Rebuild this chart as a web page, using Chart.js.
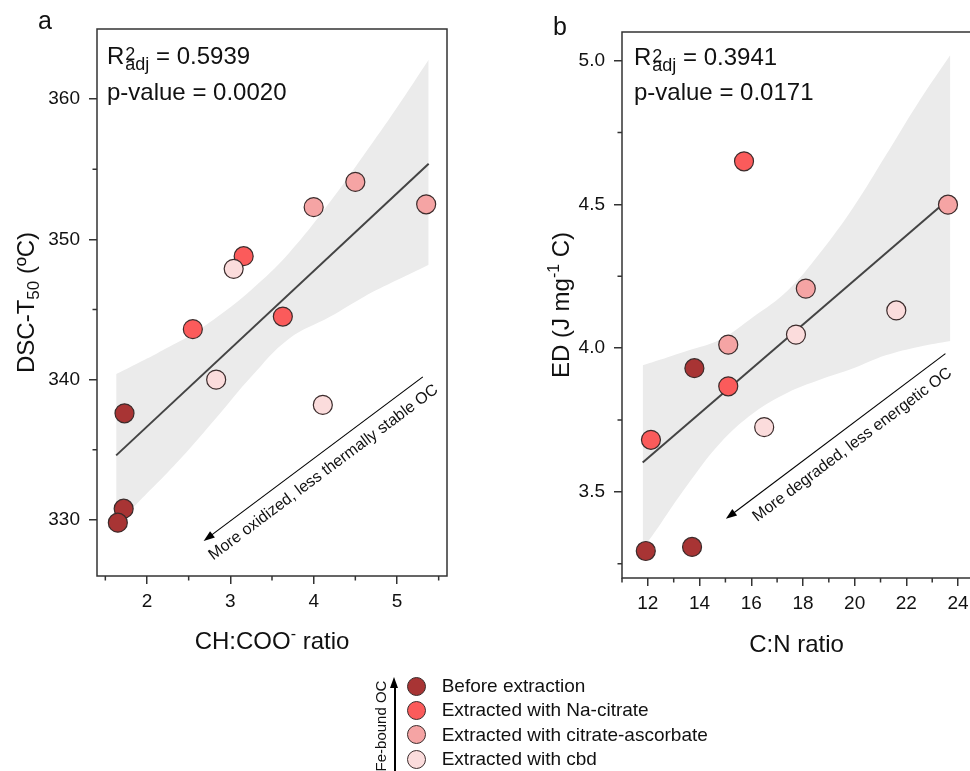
<!DOCTYPE html>
<html>
<head>
<meta charset="utf-8">
<script src="https://cdn.jsdelivr.net/npm/chart.js@4.4.1/dist/chart.umd.min.js"></script>
<style>
  html, body { margin: 0; padding: 0; width: 970px; height: 771px; overflow: hidden; background: #fff; }
  #wrapA { position: absolute; left: 0; top: 0; }
  #wrapB { position: absolute; left: 520px; top: 0; }
  .dot { position: absolute; width: 19px; height: 19px; border-radius: 50%; border: 1.2px solid #3b2b2b; box-sizing: border-box; }
  .legtxt { position: absolute; font: 19px 'Liberation Sans', Arial, sans-serif; line-height: 22px; color: #111; white-space: nowrap; }
  #feLine { position: absolute; left: 394px; top: 686px; width: 1.6px; height: 90px; background: #000; }
  #feHead { position: absolute; left: 390.3px; top: 677px; width: 0; height: 0;
            border-left: 4.5px solid transparent; border-right: 4.5px solid transparent; border-bottom: 11px solid #000; }
  #feText { position: absolute; left: 380px; top: 726px; transform: translate(-50%, -50%) rotate(-90deg);
            font: 15px 'Liberation Sans', Arial, sans-serif; line-height: 15px; white-space: nowrap; color: #111; }
</style>
</head>
<body>
<div id="wrapA"><canvas id="chartA" width="485" height="680"></canvas></div>
<div id="wrapB"><canvas id="chartB" width="470" height="680"></canvas></div>
<div id="legend"></div>
<div id="feLine"></div>
<div id="feHead"></div>
<div id="feText">Fe-bound OC</div>

<script>
const FONT = "'Liberation Sans', Arial, sans-serif";

// groupes d'échantillons
const groupLabels = ['Before extraction', 'Extracted with Na-citrate', 'Extracted with citrate-ascorbate', 'Extracted with cbd'];
const groupColors = ['#a83434', '#fb5b5b', '#f5a4a4', '#fbdcdc'];

// panneau a : CH:COO- vs DSC-T50
const chCooBefore = [1.73, 1.72, 1.65];
const dscBefore = [337.6, 330.8, 329.8];
const chCooNa = [2.55, 3.16, 3.63];
const dscNa = [343.6, 348.8, 344.5];
const chCooCA = [4.00, 4.50, 5.35];
const dscCA = [352.3, 354.1, 352.5];
const chCooCbd = [3.04, 2.83, 4.11];
const dscCbd = [347.9, 340.0, 338.2];

const fitAX = [1.63, 5.38];
const fitAY = [334.6, 355.4];
const bandAX = [1.63, 1.8, 2.0, 2.25, 2.5, 2.85, 3.25, 3.7, 4.2, 4.6, 5.0, 5.38];
const bandAUpper = [340.4, 340.9, 341.5, 342.3, 343.1, 344.5, 346.4, 349.0, 352.7, 356.0, 359.4, 362.8];
const bandALower = [329.8, 330.7, 331.9, 333.4, 335.0, 337.4, 340.2, 342.9, 344.5, 345.9, 347.1, 348.2];

const xTicksA = [2, 3, 4, 5];
const xMinorA = [1.5, 2.5, 3.5, 4.5, 5.5];
const yTicksA = [330, 340, 350, 360];
const yMinorA = [335, 345, 355];

// panneau b : C:N vs ED
const cnBefore = [13.80, 11.92, 13.71];
const edBefore = [3.930, 3.294, 3.308];
const cnNa = [15.72, 15.11, 12.12];
const edNa = [4.650, 3.867, 3.681];
const cnCA = [23.61, 18.11, 15.11];
const edCA = [4.499, 4.207, 4.012];
const cnCbd = [21.61, 17.73, 16.50];
const edCbd = [4.131, 4.047, 3.725];

const fitBX = [11.8, 23.7];
const fitBY = [3.602, 4.523];
const bandBX = [11.8, 12.5, 13.5, 14.8, 16.1, 17.4, 18.65, 19.95, 21.2, 22.5, 23.7];
const bandBUpper = [3.94, 3.96, 3.99, 4.03, 4.11, 4.20, 4.33, 4.49, 4.67, 4.86, 5.02];
const bandBLower = [3.30, 3.39, 3.52, 3.67, 3.775, 3.845, 3.89, 3.93, 3.975, 4.005, 4.025];

const xTicksB = [12, 14, 16, 18, 20, 22, 24];
const xMinorB = [11, 13, 15, 17, 19, 21, 23];
const yTicksB = [3.5, 4.0, 4.5, 5.0];
const yMinorB = [3.25, 3.75, 4.25, 4.75];

const toPts = (xs, ys) => xs.map((x, i) => ({ x: x, y: ys[i] }));

function richWidth(ctx, parts) {
    let w = 0;
    parts.forEach(p => { ctx.font = p[1] + 'px ' + FONT; w += ctx.measureText(p[0]).width; });
    return w;
}

function drawRich(ctx, parts, cx, y) {
    let x = cx - richWidth(ctx, parts) / 2;
    ctx.textAlign = 'left';
    ctx.textBaseline = 'alphabetic';
    parts.forEach(p => {
        ctx.font = p[1] + 'px ' + FONT;
        ctx.fillText(p[0], x, y + p[2]);
        x += ctx.measureText(p[0]).width;
    });
}

function drawR2(ctx, x, y, value) {
    ctx.textAlign = 'left';
    ctx.textBaseline = 'alphabetic';
    ctx.font = '24px ' + FONT;
    ctx.fillText('R', x, y);
    let cx = x + ctx.measureText('R').width + 1;
    ctx.font = '18px ' + FONT;
    ctx.fillText('2', cx, y - 3.5);
    ctx.fillText('adj', cx, y + 6);
    cx += Math.max(ctx.measureText('2').width, ctx.measureText('adj').width);
    ctx.font = '24px ' + FONT;
    ctx.fillText(' = ' + value, cx, y);
}

// décorations : cadre, petites graduations, titres, flèches
const deco = {
    id: 'deco',
    afterDraw(chart, args, o) {
        const ctx = chart.ctx, ca = chart.chartArea;
        const xs = chart.scales.x, ys = chart.scales.y;
        ctx.save();
        ctx.strokeStyle = '#333';
        ctx.lineWidth = 1.5;
        ctx.strokeRect(ca.left, ca.top, ca.right - ca.left, ca.bottom - ca.top);

        ctx.beginPath();
        o.minorX.forEach(v => {
            const p = xs.getPixelForValue(v);
            ctx.moveTo(p, ca.bottom); ctx.lineTo(p, ca.bottom + 4.5);
        });
        o.minorY.forEach(v => {
            const p = ys.getPixelForValue(v);
            ctx.moveTo(ca.left, p); ctx.lineTo(ca.left - 4.5, p);
        });
        ctx.stroke();

        ctx.fillStyle = '#111';
        // lettre du panneau
        ctx.font = '25px ' + FONT;
        ctx.textAlign = 'left';
        ctx.fillText(o.label, o.labelX, o.labelY);

        drawR2(ctx, ca.left + o.textDx, ca.top + o.r2Dy, o.r2);
        ctx.font = '24px ' + FONT;
        ctx.fillText('p-value = ' + o.pval, ca.left + o.textDx, ca.top + o.pDy);

        // titres des axes
        drawRich(ctx, o.xTitle, (ca.left + ca.right) / 2, o.xTitleY);
        ctx.save();
        ctx.translate(o.yTitleX, (ca.top + ca.bottom) / 2);
        ctx.rotate(-Math.PI / 2);
        drawRich(ctx, o.yTitle, 0, 0);
        ctx.restore();

        // flèche diagonale
        const t = { x: xs.getPixelForValue(o.arrow[0]), y: ys.getPixelForValue(o.arrow[1]) };
        const h = { x: xs.getPixelForValue(o.arrow[2]), y: ys.getPixelForValue(o.arrow[3]) };
        const ang = Math.atan2(t.y - h.y, t.x - h.x);
        const dx = Math.cos(ang), dy = Math.sin(ang);
        ctx.strokeStyle = '#000';
        ctx.lineWidth = 1.1;
        ctx.beginPath();
        ctx.moveTo(t.x, t.y);
        ctx.lineTo(h.x + dx * 8, h.y + dy * 8);
        ctx.stroke();
        ctx.fillStyle = '#000';
        ctx.beginPath();
        ctx.moveTo(h.x, h.y);
        ctx.lineTo(h.x + dx * 11 - dy * 4, h.y + dy * 11 + dx * 4);
        ctx.lineTo(h.x + dx * 11 + dy * 4, h.y + dy * 11 - dx * 4);
        ctx.closePath();
        ctx.fill();

        const mx = (t.x + h.x) / 2 - dy * o.textOff + dx * o.textAlong;
        const my = (t.y + h.y) / 2 + dx * o.textOff + dy * o.textAlong;
        ctx.save();
        ctx.translate(mx, my);
        ctx.rotate(ang);
        ctx.fillStyle = '#111';
        ctx.font = '16px ' + FONT;
        ctx.textAlign = 'center';
        ctx.textBaseline = 'middle';
        ctx.fillText(o.arrowText, 0, 0);
        ctx.restore();

        ctx.restore();
    }
};

function groupSets(xsList, ysList) {
    return xsList.map((xs, i) => ({
        label: groupLabels[i],
        data: toPts(xs, ysList[i]),
        showLine: false,
        pointRadius: 9.5,
        pointHoverRadius: 9.5,
        pointBackgroundColor: groupColors[i],
        pointBorderColor: '#3b2b2b',
        pointBorderWidth: 1.2,
        order: 4 - i
    }));
}

function makePanel(id, p) {
    const datasets = [
        { data: toPts(p.bandX, p.bandUp), fill: '+1', backgroundColor: '#ebebeb', borderColor: 'rgba(0,0,0,0)',
          borderWidth: 0, pointRadius: 0, tension: 0.4, order: 10 },
        { data: toPts(p.bandX, p.bandLow), fill: false, borderColor: 'rgba(0,0,0,0)',
          borderWidth: 0, pointRadius: 0, tension: 0.4, order: 10 },
        { data: toPts(p.fitX, p.fitY), fill: false, borderColor: '#444', borderWidth: 2,
          pointRadius: 0, order: 9 }
    ].concat(groupSets(p.gx, p.gy));

    const axisStyle = {
        grid: { drawOnChartArea: false, drawTicks: true, tickLength: 8, color: '#333', lineWidth: 1.5 },
        border: { display: false }
    };

    new Chart(document.getElementById(id), {
        type: 'line',
        data: { datasets: datasets },
        options: {
            responsive: false,
            animation: false,
            events: [],
            layout: { autoPadding: false, padding: p.padding },
            plugins: {
                legend: { display: false },
                tooltip: { enabled: false },
                deco: p.deco
            },
            scales: {
                x: Object.assign({
                    type: 'linear', min: p.xMin, max: p.xMax,
                    afterBuildTicks: s => { s.ticks = p.xTicks.map(v => ({ value: v })); },
                    afterFit: s => { s.height = p.xAxisH; },
                    ticks: { font: { family: FONT, size: 19 }, color: '#111', padding: 6, autoSkip: false, maxRotation: 0,
                             callback: p.xFmt }
                }, axisStyle),
                y: Object.assign({
                    type: 'linear', min: p.yMin, max: p.yMax,
                    afterBuildTicks: s => { s.ticks = p.yTicks.map(v => ({ value: v })); },
                    afterFit: s => { s.width = p.yAxisW; },
                    ticks: { font: { family: FONT, size: 19 }, color: '#111', padding: 9, autoSkip: false,
                             callback: p.yFmt }
                }, axisStyle)
            }
        },
        plugins: [deco]
    });
}

makePanel('chartA', {
    gx: [chCooBefore, chCooNa, chCooCA, chCooCbd],
    gy: [dscBefore, dscNa, dscCA, dscCbd],
    fitX: fitAX, fitY: fitAY, bandX: bandAX, bandUp: bandAUpper, bandLow: bandALower,
    xMin: 1.4, xMax: 5.6, yMin: 326, yMax: 365,
    xTicks: xTicksA, yTicks: yTicksA,
    xFmt: v => String(v), yFmt: v => String(v),
    padding: { left: 0, top: 29, right: 38, bottom: 0 },
    xAxisH: 104, yAxisW: 97,
    deco: {
        label: 'a', labelX: 38, labelY: 29,
        r2: '0.5939', pval: '0.0020', textDx: 10, r2Dy: 34.5, pDy: 70.5,
        minorX: xMinorA, minorY: yMinorA,
        xTitle: [['CH:COO', 24, 0], ['-', 16, -10], [' ratio', 24, 0]], xTitleY: 648.5,
        yTitle: [['DSC-T', 24, 0], ['50', 17, 5], [' (ºC)', 24, 0]], yTitleX: 33.5,
        arrow: [5.31, 340.2, 2.68, 328.5],
        arrowText: 'More oxidized, less thermally stable OC', textOff: 17, textAlong: 0
    }
});

makePanel('chartB', {
    gx: [cnBefore, cnNa, cnCA, cnCbd],
    gy: [edBefore, edNa, edCA, edCbd],
    fitX: fitBX, fitY: fitBY, bandX: bandBX, bandUp: bandBUpper, bandLow: bandBLower,
    xMin: 11, xMax: 24.5, yMin: 3.2, yMax: 5.1,
    xTicks: xTicksB, yTicks: yTicksB,
    xFmt: v => String(v), yFmt: v => v.toFixed(1),
    padding: { left: 0, top: 32, right: 19, bottom: 0 },
    xAxisH: 102, yAxisW: 102,
    deco: {
        label: 'b', labelX: 33, labelY: 35,
        r2: '0.3941', pval: '0.0171', textDx: 12, r2Dy: 33, pDy: 68,
        minorX: xMinorB, minorY: yMinorB,
        xTitle: [['C:N ratio', 24, 0]], xTitleY: 651.5,
        yTitle: [['ED (J mg', 24, 0], ['-1', 16, -10], [' C)', 24, 0]], yTitleX: 48.5,
        arrow: [23.51, 3.981, 15.02, 3.406],
        arrowText: 'More degraded, less energetic OC', textOff: 17, textAlong: 8
    }
});

// légende
const legend = document.getElementById('legend');
groupLabels.forEach((lab, i) => {
    const base = 692.3 + 24.4 * i;
    const dot = document.createElement('div');
    dot.className = 'dot';
    dot.style.left = '406.5px';
    dot.style.top = (base - 6.3 - 9.5) + 'px';
    dot.style.background = groupColors[i];
    legend.appendChild(dot);
    const txt = document.createElement('div');
    txt.className = 'legtxt';
    txt.style.left = '441.7px';
    txt.style.top = (base - 17.6) + 'px';
    txt.textContent = lab;
    legend.appendChild(txt);
});
</script>
</body>
</html>
